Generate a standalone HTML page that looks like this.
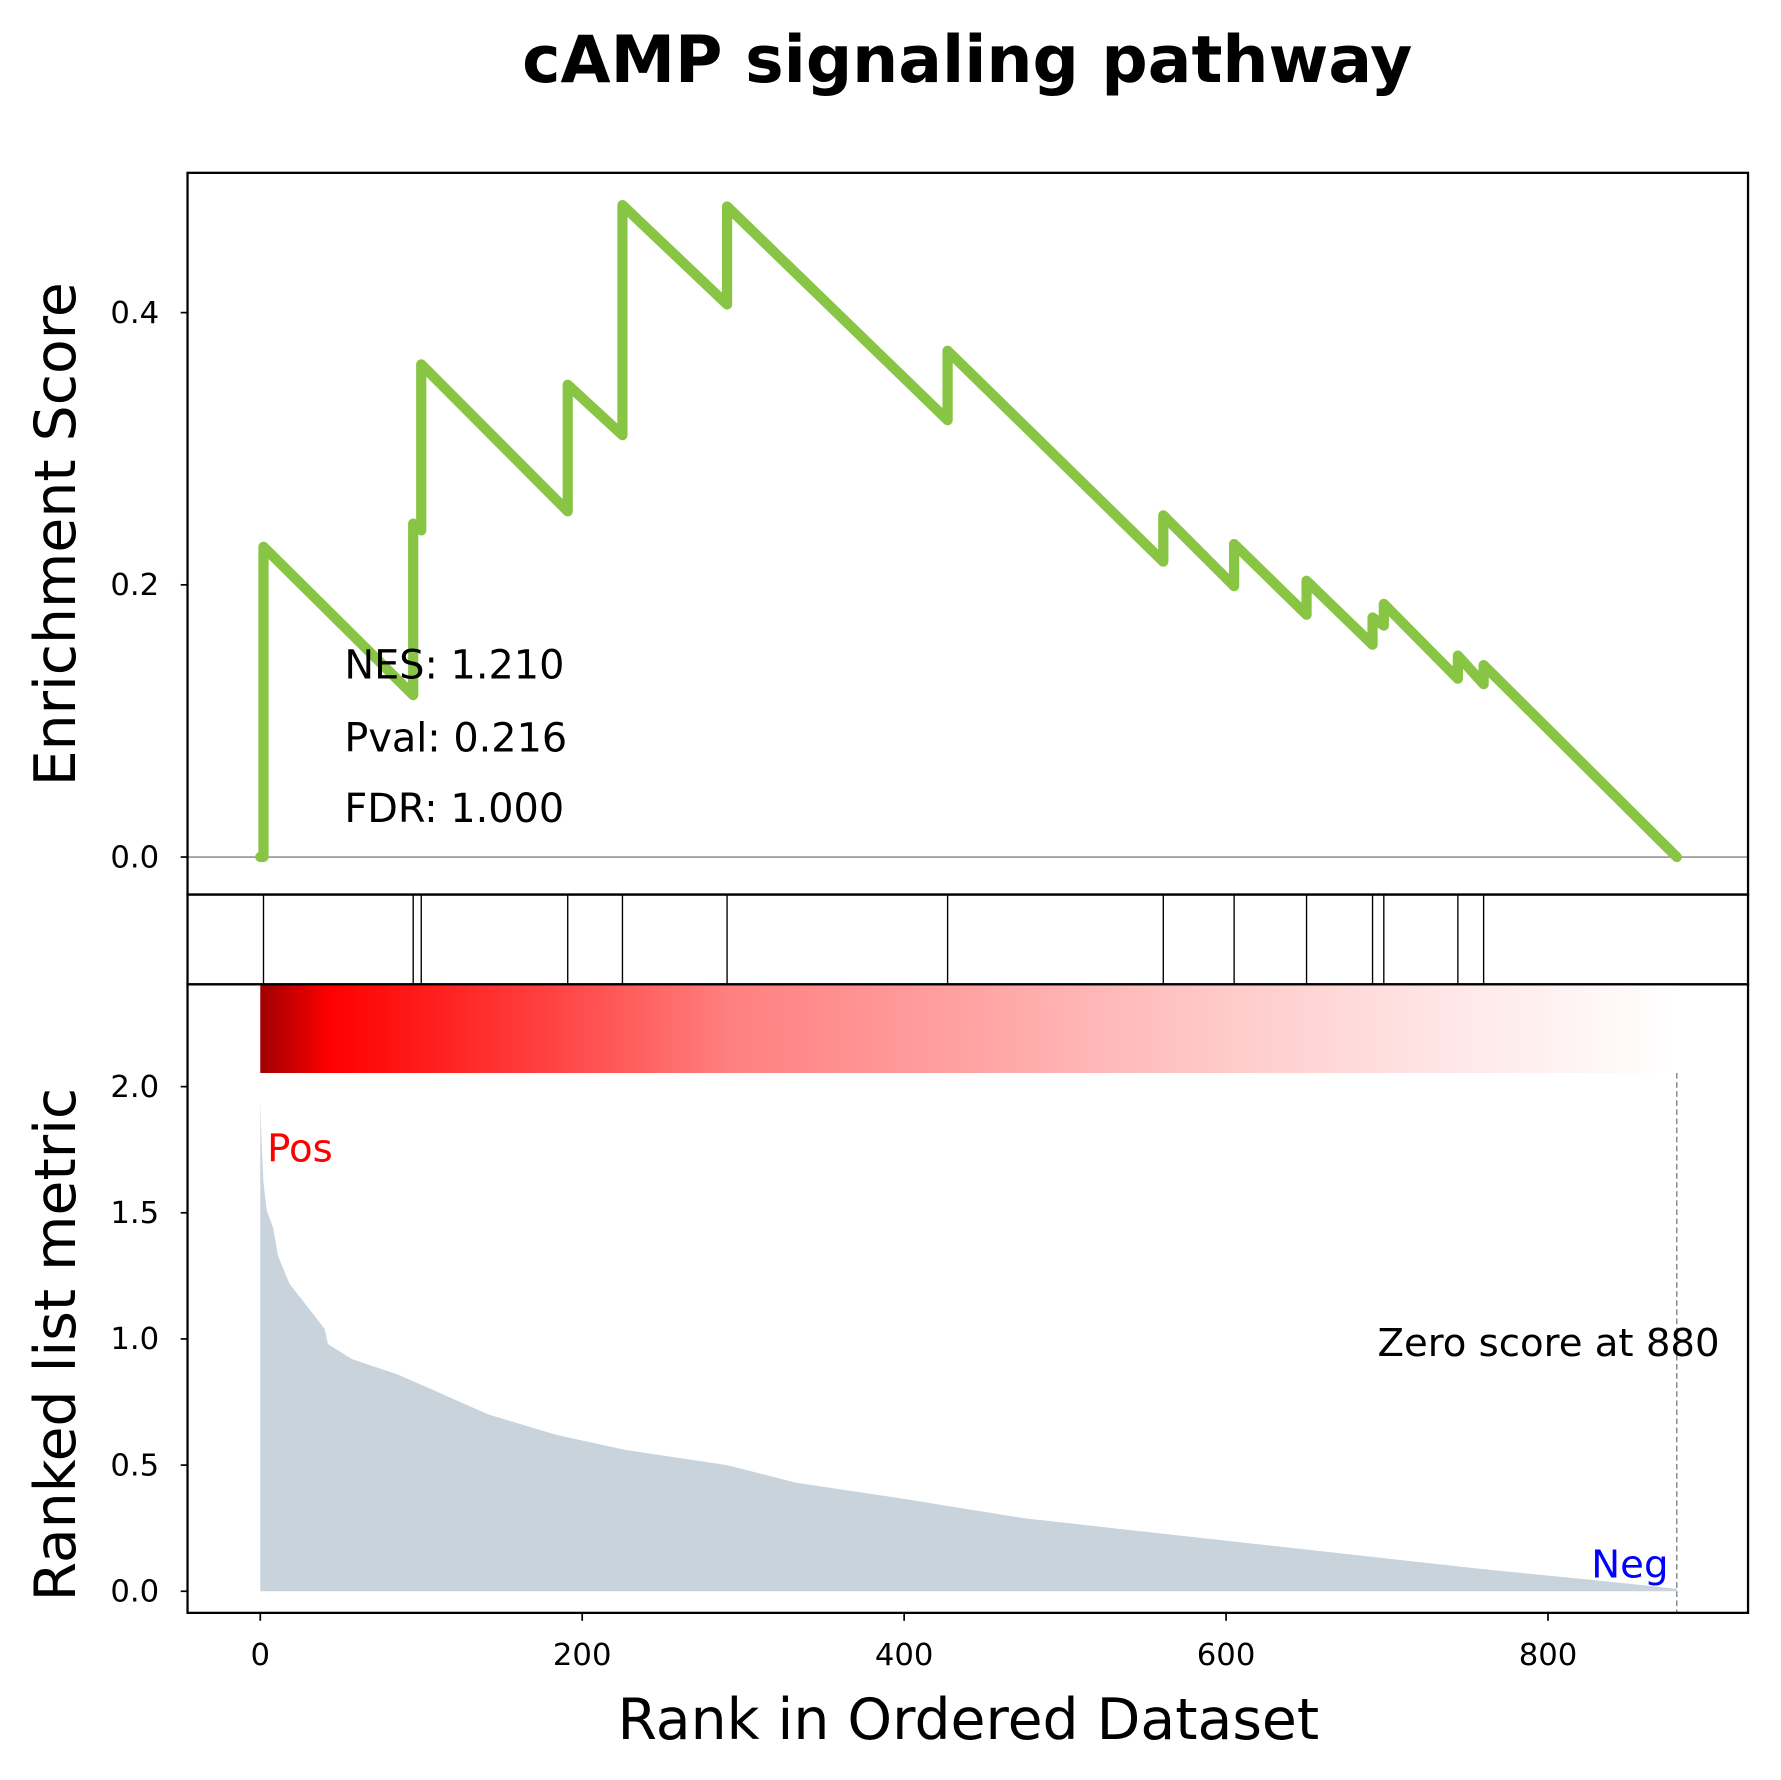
<!DOCTYPE html>
<html><head><meta charset="utf-8"><style>
html,body{margin:0;padding:0;background:#fff;}
svg{display:block;}
text{font-family:"DejaVu Sans","Liberation Sans",sans-serif;}
</style></head><body>
<svg id="chart" width="1781" height="1780" viewBox="0 0 1567 1566" xmlns="http://www.w3.org/2000/svg">
<defs>
<linearGradient id="rg" x1="0" x2="1" y1="0" y2="0">
<stop offset="0" stop-color="#a00000"/>
<stop offset="0.05" stop-color="#ff0000"/>
<stop offset="0.2" stop-color="#ff4040"/>
<stop offset="0.33" stop-color="#ff7f7f"/>
<stop offset="0.5" stop-color="#ffa2a2"/>
<stop offset="0.65" stop-color="#ffc4c4"/>
<stop offset="0.85" stop-color="#ffe8e8"/>
<stop offset="1" stop-color="#ffffff"/>
</linearGradient>
</defs>
<text x="851" y="72" text-anchor="middle" font-size="57" font-weight="bold">cAMP signaling pathway</text>
<g id="gTop"></g>
<g id="gMid"></g>
<g id="gBot"></g>
<text transform="translate(66,470) rotate(-90)" text-anchor="middle" font-size="50">Enrichment Score</text>
<text transform="translate(66,1183) rotate(-90)" text-anchor="middle" font-size="50">Ranked list metric</text>
<text x="852" y="1530" text-anchor="middle" font-size="50">Rank in Ordered Dataset</text>
</svg>
<script>
const hitRanks=[2,95,100,191,225,290,427,561,605,650,691,698,744,760];
const esBefore=[0,0.119,0.240,0.254,0.310,0.406,0.321,0.217,0.199,0.178,0.156,0.170,0.131,0.127];
const esAfter=[0.228,0.245,0.362,0.347,0.479,0.478,0.372,0.251,0.230,0.203,0.176,0.186,0.148,0.141];
const esTicks=[0.0,0.2,0.4];
const metricRanks=[0,1,2,4,8,11,18,29,40,42,57,85,110,142,184,227,290,333,396,474,544,615,693,756,827,880];
const metricValues=[1.94,1.75,1.62,1.51,1.44,1.33,1.22,1.13,1.04,0.98,0.92,0.86,0.79,0.70,0.62,0.56,0.50,0.43,0.37,0.29,0.24,0.19,0.135,0.09,0.045,0.01];
const metricTicks=[0.0,0.5,1.0,1.5,2.0];
const xTicks=[0,200,400,600,800];
const nGenes=880;

const NS="http://www.w3.org/2000/svg";
const X=r=>229+1.41625*r;
const YE=v=>754-1197.5*v;
const YM=v=>1400-222*v;
function mk(tag,attrs,parent){const e=document.createElementNS(NS,tag);for(const k in attrs)e.setAttribute(k,attrs[k]);parent.appendChild(e);return e;}
const gTop=document.getElementById('gTop'),gMid=document.getElementById('gMid'),gBot=document.getElementById('gBot');

// top panel
mk('line',{x1:165,x2:1538,y1:YE(0),y2:YE(0),stroke:'#808080','stroke-width':1.2},gTop);
let pts=[[0,0]];
hitRanks.forEach((r,i)=>{pts.push([r,esBefore[i]]);pts.push([r,esAfter[i]]);});
pts.push([nGenes,0]);
const es=mk('polyline',{points:pts.map(p=>X(p[0])+','+YE(p[1])).join(' '),fill:'none',stroke:'#88c544','stroke-width':9,'stroke-linejoin':'round','stroke-linecap':'round'},gTop);


esTicks.forEach(t=>{
 const y=YE(t);
 mk('line',{x1:159,x2:165,y1:y,y2:y,stroke:'#000','stroke-width':1.5},gTop);
 const tx=mk('text',{x:140,y:y+9,'text-anchor':'end','font-size':27},gTop);tx.textContent=t.toFixed(1);
 
 
});
[['NES: 1.210',597],['Pval: 0.216',661],['FDR: 1.000',723]].forEach(([s,y])=>{
 const t=mk('text',{x:303,y:y,'font-size':35},gTop);t.textContent=s;
 
 
});
mk('rect',{x:165,y:152,width:1373,height:635,fill:'none',stroke:'#000','stroke-width':2},gTop);

// hit ticks panel
hitRanks.forEach(r=>{
 const l=mk('line',{x1:X(r),x2:X(r),y1:787,y2:866,stroke:'#000','stroke-width':1.2},gMid);
 
 
});
mk('rect',{x:165,y:787,width:1373,height:79,fill:'none',stroke:'#000','stroke-width':2},gMid);

// bottom panel
mk('rect',{x:X(0),y:866,width:X(nGenes)-X(0),height:78,fill:'url(#rg)'},gBot);
let d='M'+X(0)+','+YM(0);
metricRanks.forEach((r,i)=>{d+=' L'+X(r)+','+YM(metricValues[i]);});
d+=' L'+X(nGenes)+','+YM(0)+' Z';
const area=mk('path',{d:d,fill:'#c9d3dc'},gBot);


mk('line',{x1:X(nGenes),x2:X(nGenes),y1:944,y2:1419,stroke:'#808080','stroke-width':1.2,'stroke-dasharray':'5,3'},gBot);
metricTicks.forEach(t=>{
 const y=YM(t);
 mk('line',{x1:159,x2:165,y1:y,y2:y,stroke:'#000','stroke-width':1.5},gBot);
 const tx=mk('text',{x:140,y:y+9,'text-anchor':'end','font-size':27},gBot);tx.textContent=t.toFixed(1);
 
 
});
xTicks.forEach(t=>{
 const x=X(t);
 mk('line',{x1:x,x2:x,y1:1419,y2:1426,stroke:'#000','stroke-width':1.5},gBot);
 const tx=mk('text',{x:x,y:1465,'text-anchor':'middle','font-size':27},gBot);tx.textContent=t;
 
 
});
let t1=mk('text',{x:235,y:1022,'font-size':34,fill:'#ff0000'},gBot);t1.textContent='Pos';


let t2=mk('text',{x:1468,y:1388,'font-size':34,fill:'#0000ff','text-anchor':'end'},gBot);t2.textContent='Neg';


let t3=mk('text',{x:1212,y:1193,'font-size':34},gBot);t3.textContent='Zero score at '+nGenes;


mk('rect',{x:165,y:866,width:1373,height:553,fill:'none',stroke:'#000','stroke-width':2},gBot);
</script>
</body></html>
